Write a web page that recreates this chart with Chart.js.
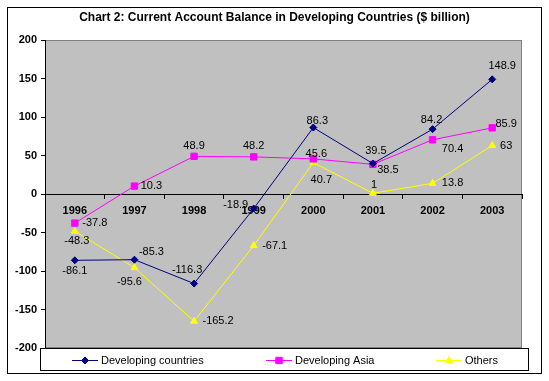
<!DOCTYPE html>
<html>
<head>
<meta charset="utf-8">
<script src="https://cdn.jsdelivr.net/npm/chart.js@4.4.1/dist/chart.umd.min.js"></script>
<style>
  html, body { margin: 0; padding: 0; background: #ffffff; }
  #wrap { width: 549px; height: 381px; }
</style>
</head>
<body>
<div id="wrap"><canvas id="c" width="549" height="381"></canvas></div>
<script>
// ---- data ----
const categories = ['1996', '1997', '1998', '1999', '2000', '2001', '2002', '2003'];
const developingCountries = [-86.1, -85.3, -116.3, -18.9, 86.3, 39.5, 84.2, 148.9];
const developingAsia = [-37.8, 10.3, 48.9, 48.2, 45.6, 38.5, 70.4, 85.9];
const others = [-48.3, -95.6, -165.2, -67.1, 40.7, 1, 13.8, 63];
const yTicks = { min: -200, max: 200, step: 50 };
const titleText = 'Chart 2: Current Account Balance in Developing Countries ($ billion)';

// ---- label placement (offsets of the value text from its point, px) ----
const labelOffsets = [
  [[0, 11], [17, -8], [-7, -14], [-18, -4], [4, -7], [3, -13], [-1, -9], [10, -13]],
  [[20, 0], [17, 0], [0, -10], [0, -11], [3, -5], [15, 6], [20, 9], [14, -4]],
  [[2, 10], [-5, 14], [24, 0], [21, 0], [8, 17], [1, -8], [20, 0], [14, 0]]
];

const FONT = '"Liberation Sans", Arial, sans-serif';

const backgroundPlugin = {
  id: 'bgPlot',
  beforeDraw(chart) {
    const ctx = chart.ctx;
    const a = chart.chartArea;
    ctx.save();
    ctx.fillStyle = '#ffffff';
    ctx.fillRect(0, 0, chart.width, chart.height);
    ctx.fillStyle = '#c0c0c0';
    ctx.fillRect(a.left, a.top, a.right - a.left, a.bottom - a.top);
    ctx.strokeStyle = '#808080';
    ctx.lineWidth = 1;
    ctx.strokeRect(a.left + 0.5, a.top + 0.5, a.right - a.left - 1, a.bottom - a.top - 1);
    ctx.strokeStyle = '#000000';
    ctx.strokeRect(7.5, 7.5, 534, 366);
    ctx.restore();
  }
};

const valueLabelPlugin = {
  id: 'valueLabels',
  afterDatasetsDraw(chart) {
    const ctx = chart.ctx;
    ctx.save();
    ctx.font = '11px ' + FONT;
    ctx.fillStyle = '#000000';
    ctx.textAlign = 'center';
    ctx.textBaseline = 'middle';
    chart.data.datasets.forEach((ds, di) => {
      const meta = chart.getDatasetMeta(di);
      meta.data.forEach((pt, i) => {
        const off = labelOffsets[di][i];
        ctx.fillText(String(ds.data[i]), pt.x + off[0], pt.y + off[1]);
      });
    });
    ctx.restore();
  }
};

function drawMarker(ctx, style, x, y, color) {
  ctx.save();
  ctx.fillStyle = color;
  ctx.strokeStyle = color;
  ctx.lineWidth = 1;
  if (Chart.helpers && Chart.helpers.drawPoint) {
    const r = style === 'rect' ? 4.5 : (style === 'triangle' ? 4 : 3.5);
    Chart.helpers.drawPoint(ctx, { pointStyle: style, radius: r, rotation: 0, borderWidth: 1 }, x, y);
  } else {
    ctx.beginPath();
    if (style === 'rectRot') {
      ctx.moveTo(x, y - 3.5); ctx.lineTo(x + 3.5, y); ctx.lineTo(x, y + 3.5); ctx.lineTo(x - 3.5, y);
    } else if (style === 'rect') {
      ctx.rect(x - 3, y - 3, 6, 6);
    } else {
      ctx.moveTo(x, y - 4); ctx.lineTo(x + 3.5, y + 2); ctx.lineTo(x - 3.5, y + 2);
    }
    ctx.closePath();
    ctx.fill();
    ctx.stroke();
  }
  ctx.restore();
}

const legendBoxPlugin = {
  id: 'legendBox',
  afterDraw(chart) {
    const ctx = chart.ctx;
    const a = chart.chartArea;
    const boxLeft = a.left - 5, boxRight = a.right + 7, boxTop = a.bottom, boxBottom = a.bottom + 23;
    ctx.save();
    ctx.fillStyle = '#ffffff';
    ctx.fillRect(boxLeft, boxTop, boxRight - boxLeft, boxBottom - boxTop);
    ctx.strokeStyle = '#000000';
    ctx.lineWidth = 1;
    ctx.strokeRect(boxLeft + 0.5, boxTop + 0.5, boxRight - boxLeft - 1, boxBottom - boxTop - 1);
    const cy = Math.round((boxTop + boxBottom) / 2) + 0.5;
    const starts = [72, 266, 436];
    ctx.font = '11px ' + FONT;
    ctx.textBaseline = 'middle';
    ctx.textAlign = 'left';
    chart.data.datasets.forEach((ds, i) => {
      const x0 = starts[i];
      ctx.strokeStyle = ds.borderColor;
      ctx.lineWidth = 1;
      ctx.beginPath();
      ctx.moveTo(x0, cy);
      ctx.lineTo(x0 + 26, cy);
      ctx.stroke();
      drawMarker(ctx, ds.pointStyle, x0 + 13, cy, ds.borderColor);
      ctx.fillStyle = '#000000';
      ctx.fillText(ds.label, x0 + 29, cy);
    });
    ctx.restore();
  }
};

const chart = new Chart(document.getElementById('c'), {
  type: 'line',
  data: {
    labels: categories,
    datasets: [
      {
        label: 'Developing countries',
        data: developingCountries,
        borderColor: '#000080',
        backgroundColor: '#000080',
        borderWidth: 1,
        pointStyle: 'rectRot',
        pointRadius: 3.5,
        pointBorderWidth: 1,
        tension: 0
      },
      {
        label: 'Developing Asia',
        data: developingAsia,
        borderColor: '#ff00ff',
        backgroundColor: '#ff00ff',
        borderWidth: 1,
        pointStyle: 'rect',
        pointRadius: 4.5,
        pointBorderWidth: 1,
        tension: 0
      },
      {
        label: 'Others',
        data: others,
        borderColor: '#ffff00',
        backgroundColor: '#ffff00',
        borderWidth: 1,
        pointStyle: 'triangle',
        pointRadius: 4,
        pointBorderWidth: 1,
        tension: 0
      }
    ]
  },
  options: {
    responsive: false,
    animation: false,
    devicePixelRatio: 1,
    layout: { padding: { top: 0, right: 0, bottom: 33, left: 0 } },
    plugins: {
      legend: { display: false },
      tooltip: { enabled: false },
      title: {
        display: true,
        text: titleText,
        color: '#000000',
        font: { family: FONT, size: 12, weight: 'bold' },
        padding: { top: 10, bottom: 15.6 }
      }
    },
    scales: {
      x: {
        type: 'category',
        position: { y: 0 },
        offset: true,
        grid: { display: true, offset: true, drawOnChartArea: false, drawTicks: true, tickLength: 4, color: '#000000' },
        border: { display: true, color: '#000000', width: 1 },
        ticks: { color: '#000000', font: { family: FONT, size: 11, weight: 'bold' }, padding: 6, maxRotation: 0, autoSkip: false },
        afterFit(scale) { scale.height = 0; scale.paddingLeft = 0; scale.paddingRight = 0; }
      },
      y: {
        position: 'left',
        min: yTicks.min,
        max: yTicks.max,
        grid: { display: true, drawOnChartArea: false, drawTicks: true, tickLength: 4, color: '#000000' },
        border: { display: true, color: '#000000', width: 1 },
        ticks: { stepSize: yTicks.step, color: '#000000', font: { family: FONT, size: 11, weight: 'bold' }, padding: 4 },
        afterFit(scale) { scale.width = 45; scale.paddingTop = 0; scale.paddingBottom = 0; }
      },
      yRightSpace: {
        position: 'right',
        min: yTicks.min,
        max: yTicks.max,
        grid: { display: false, drawOnChartArea: false, drawTicks: false },
        border: { display: false },
        ticks: { display: false },
        afterFit(scale) { scale.width = 27; scale.paddingTop = 0; scale.paddingBottom = 0; }
      }
    }
  },
  plugins: [backgroundPlugin, valueLabelPlugin, legendBoxPlugin]
});
</script>
</body>
</html>
